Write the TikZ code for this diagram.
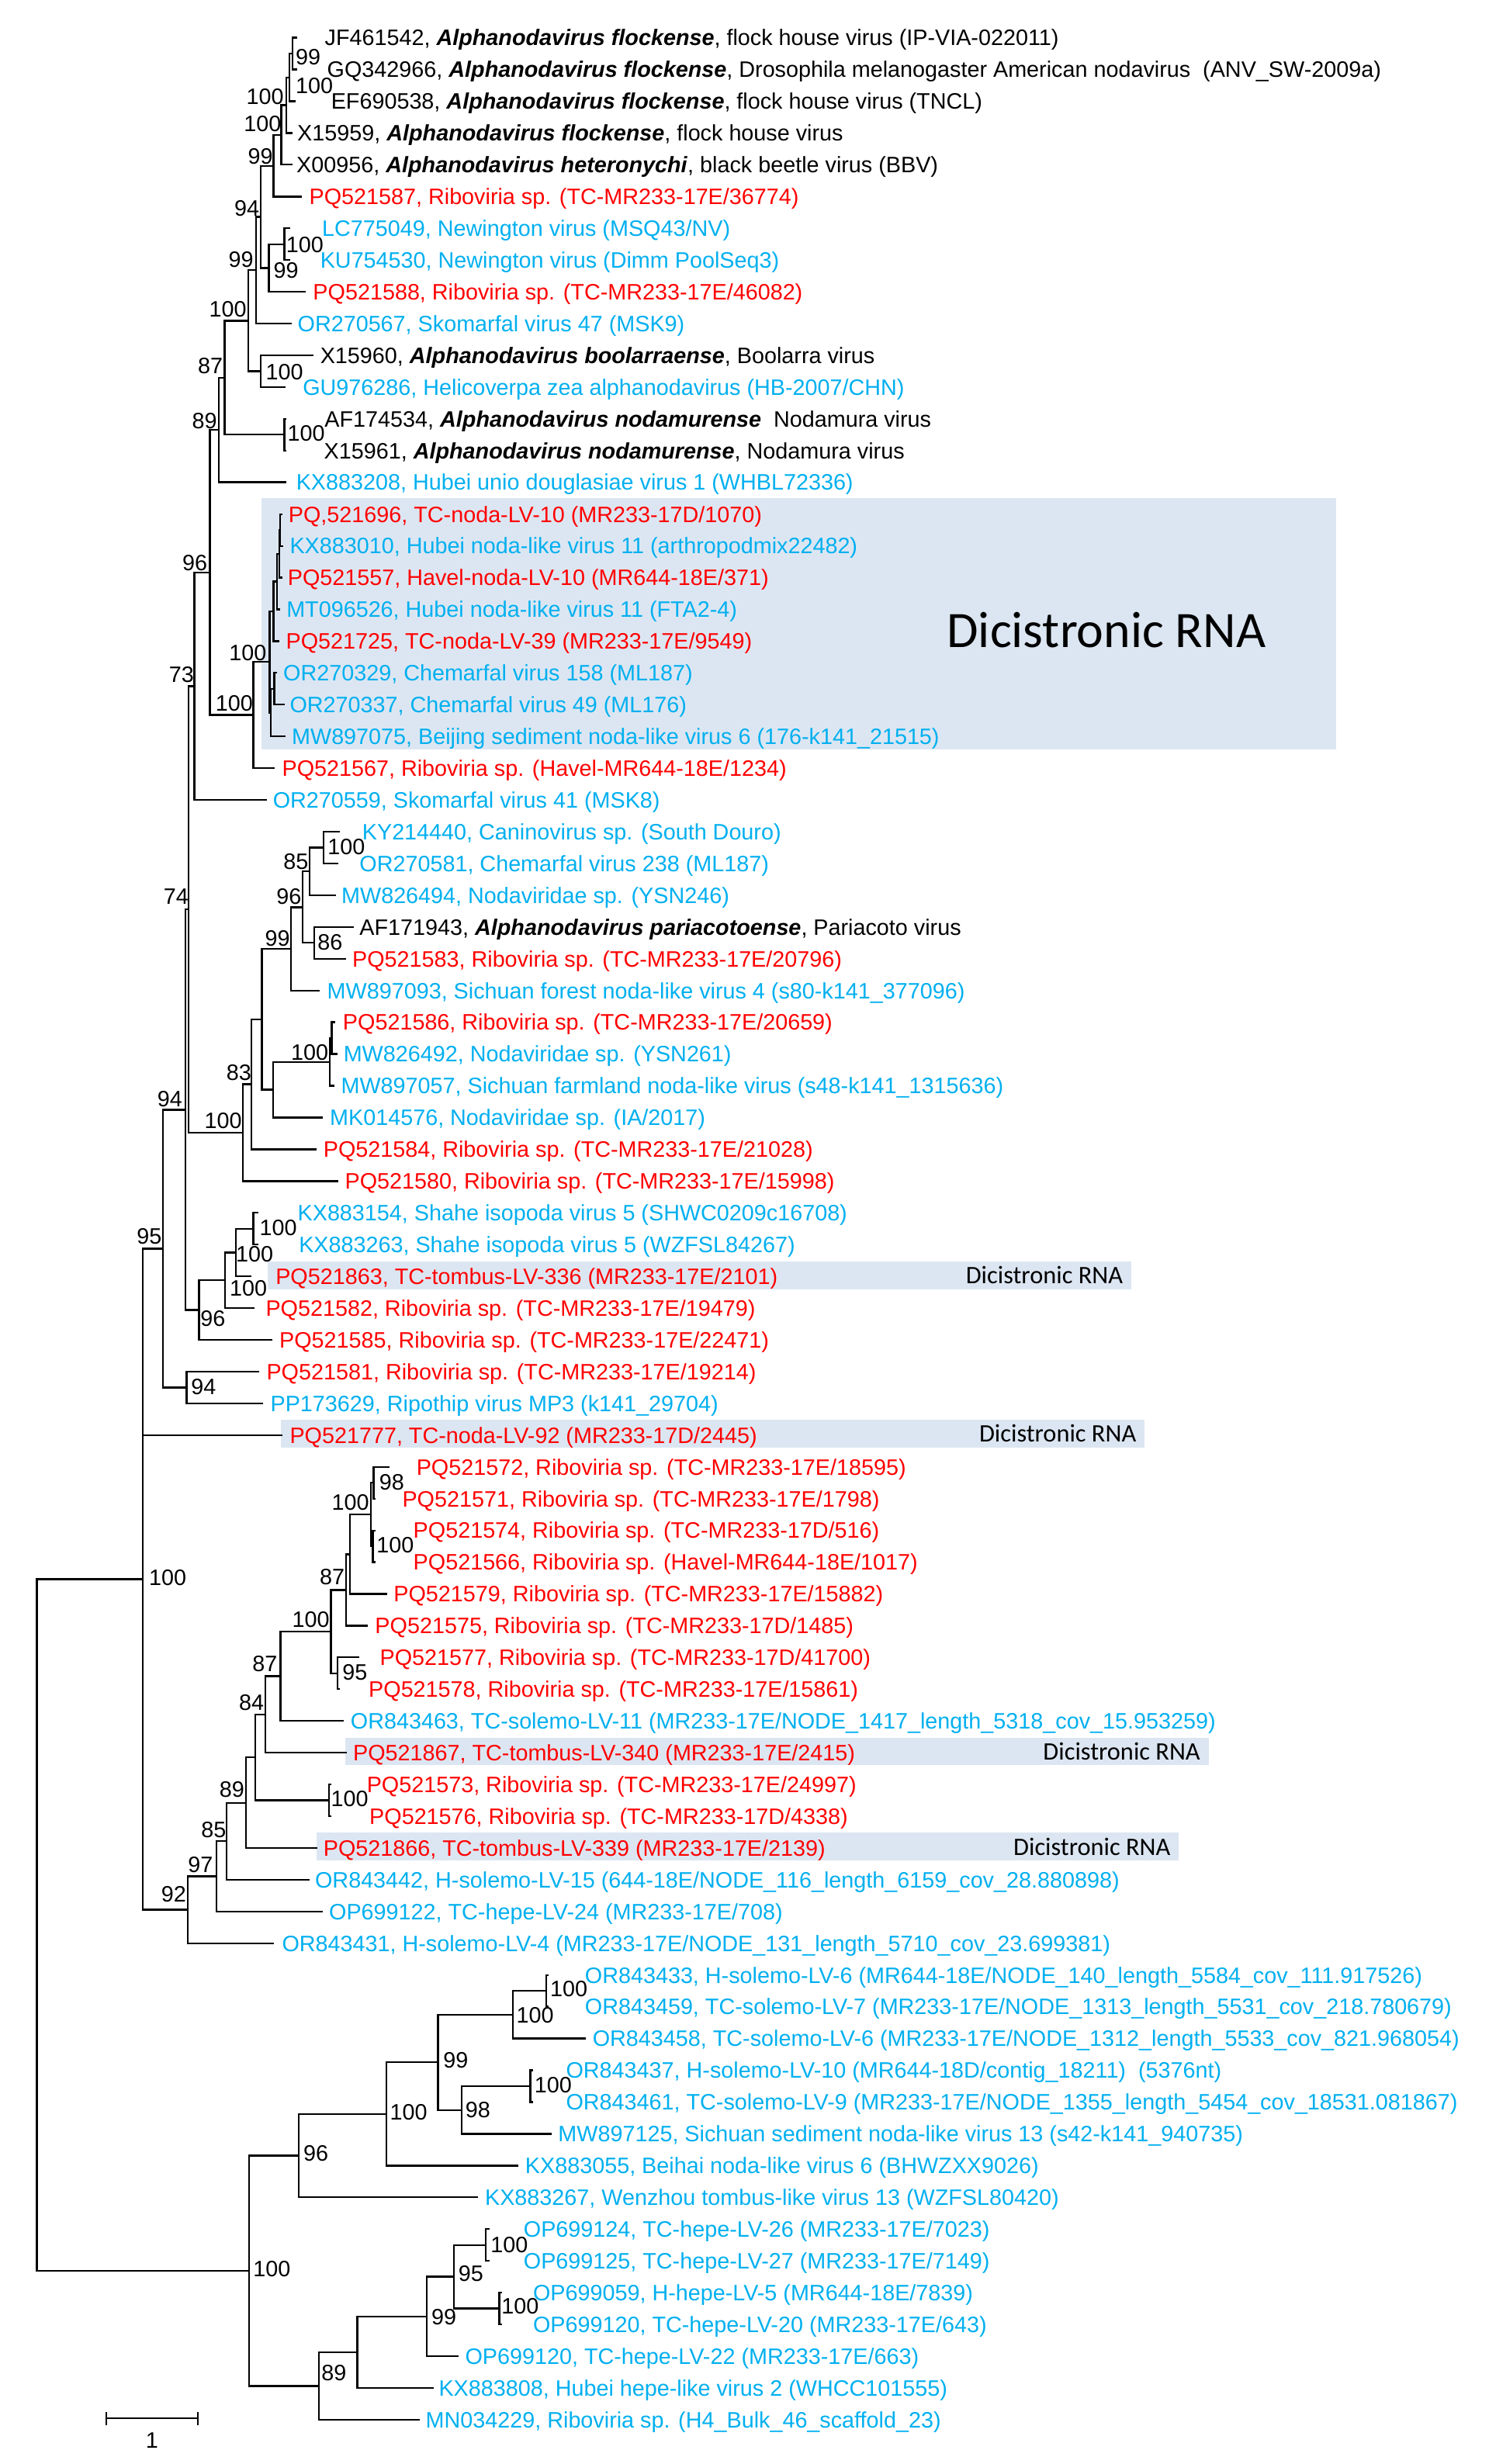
\documentclass[tikz,border=0pt]{standalone}
\usepackage{fontspec}
\setmainfont{Liberation Sans}
\newfontfamily\calfont{Carlito}
\definecolor{tred}{HTML}{FF0000}
\definecolor{tblue}{HTML}{00B0F0}
\definecolor{hlbg}{HTML}{DCE6F2}
\newcommand\spc[1]{\textbf{\textit{#1}}}
\newcommand\lfs{\fontsize{14.2}{16}\selectfont}
\tikzset{
  br/.style={line width=1.15pt, line cap=rect},
  lab/.style={anchor=west, inner sep=0pt, font=\lfs, text height=10.2pt, text depth=0pt},
  bsv/.style={inner sep=0pt, font=\lfs},
  hlbox/.style={fill=hlbg, draw=none},
  dicsmall/.style={inner sep=0pt, font=\calfont\fontsize{16}{18}\selectfont},
  dicbig/.style={inner sep=0pt, font=\calfont\fontsize{32.5}{36}\selectfont},
}
\newcommand\clade[3]{\draw[br] (#2) -| (#1) |- (#3);}
\newcommand\leaf[6]{\coordinate (t#1) at (#2,#4); \node[lab,text=#5] (L#1) at (#3,#4) {#6};}
\newcommand\bsl[4]{\node[bsv] (bs#1) at (#2,#3) {#4};}
\begin{document}
\begin{tikzpicture}[x=1pt,y=-1pt]
\fill[white] (0,0) rectangle (947,1568);
\useasboundingbox (0,0) rectangle (947,1568);
% highlight boxes
\fill[hlbox] (166.5,317) rectangle (850,477);
\fill[hlbox] (170.5,802.7) rectangle (719.7,820.5);
\fill[hlbox] (178.7,903.5) rectangle (728.2,921.1);
\fill[hlbox] (219.6,1105.9) rectangle (769,1123.4);
\fill[hlbox] (201.5,1166.2) rectangle (750,1184);
\node[dicbig] (dicA) at (704,401) {Dicistronic RNA};
\node[dicsmall] (dicB) at (664.5,811.6) {Dicistronic RNA};
\node[dicsmall] (dicC) at (673,912.3) {Dicistronic RNA};
\node[dicsmall] (dicD) at (713.7,1114.6) {Dicistronic RNA};
\node[dicsmall] (dicE) at (694.8,1175.1) {Dicistronic RNA};
% leaves
\leaf{1}{188.5}{206.5}{24.0}{black}{JF461542, \spc{Alphanodavirus flockense}, flock house virus (IP-VIA-022011)}
\leaf{2}{188.5}{208}{44.2}{black}{GQ342966, \spc{Alphanodavirus flockense}, Drosophila melanogaster American nodavirus~ (ANV\_SW-2009a)}
\leaf{3}{187.5}{210.5}{64.4}{black}{EF690538, \spc{Alphanodavirus flockense}, flock house virus (TNCL)}
\leaf{4}{185.5}{189}{84.6}{black}{X15959, \spc{Alphanodavirus flockense}, flock house virus}
\leaf{5}{185.5}{188.5}{104.8}{black}{X00956, \spc{Alphanodavirus heteronychi}, black beetle virus (BBV)}
\leaf{6}{191.6}{196.6}{125.1}{tred}{PQ521587, Riboviria sp. (TC-MR233-17E/36774)}
\leaf{7}{184}{204.8}{145.3}{tblue}{LC775049, Newington virus (MSQ43/NV)}
\leaf{8}{184}{203.6}{165.5}{tblue}{KU754530, Newington virus (Dimm PoolSeq3)}
\leaf{9}{194}{199}{185.7}{tred}{PQ521588, Riboviria sp. (TC-MR233-17E/46082)}
\leaf{10}{185}{189.2}{205.9}{tblue}{OR270567, Skomarfal virus 47 (MSK9)}
\leaf{11}{199}{203.6}{226.1}{black}{X15960, \spc{Alphanodavirus boolarraense}, Boolarra virus}
\leaf{12}{181}{192.5}{246.3}{tblue}{GU976286, Helicoverpa zea alphanodavirus (HB-2007/CHN)}
\leaf{13}{181.5}{206.4}{266.5}{black}{AF174534, \spc{Alphanodavirus nodamurense}~ Nodamura virus}
\leaf{14}{181.5}{206}{286.7}{black}{X15961, \spc{Alphanodavirus nodamurense}, Nodamura virus}
\leaf{15}{181.6}{188.3}{306.9}{tblue}{KX883208, Hubei unio douglasiae virus 1 (WHBL72336)}
\leaf{16}{179}{183.4}{327.2}{tred}{PQ,521696, TC-noda-LV-10 (MR233-17D/1070)}
\leaf{17}{179.5}{184.2}{347.4}{tblue}{KX883010, Hubei noda-like virus 11 (arthropodmix22482)}
\leaf{18}{179}{182.9}{367.6}{tred}{PQ521557, Havel-noda-LV-10 (MR644-18E/371)}
\leaf{19}{177.5}{182.1}{387.8}{tblue}{MT096526, Hubei noda-like virus 11 (FTA2-4)}
\leaf{20}{177}{181.8}{408.0}{tred}{PQ521725, TC-noda-LV-39 (MR233-17E/9549)}
\leaf{21}{175.5}{180.1}{428.2}{tblue}{OR270329, Chemarfal virus 158 (ML187)}
\leaf{22}{180.4}{184.2}{448.4}{tblue}{OR270337, Chemarfal virus 49 (ML176)}
\leaf{23}{181}{185.5}{468.6}{tblue}{MW897075, Beijing sediment noda-like virus 6 (176-k141\_21515)}
\leaf{24}{174.4}{179.3}{488.8}{tred}{PQ521567, Riboviria sp. (Havel-MR644-18E/1234)}
\leaf{25}{169.3}{173.5}{509.0}{tblue}{OR270559, Skomarfal virus 41 (MSK8)}
\leaf{26}{215.5}{230.3}{529.3}{tblue}{KY214440, Caninovirus sp. (South Douro)}
\leaf{27}{214.7}{228.6}{549.5}{tblue}{OR270581, Chemarfal virus 238 (ML187)}
\leaf{28}{213}{217.1}{569.7}{tblue}{MW826494, Nodaviridae sp. (YSN246)}
\leaf{29}{224.5}{228.6}{589.9}{black}{AF171943, \spc{Alphanodavirus pariacotoense}, Pariacoto virus}
\leaf{30}{219.6}{224}{610.1}{tred}{PQ521583, Riboviria sp. (TC-MR233-17E/20796)}
\leaf{31}{203}{208}{630.3}{tblue}{MW897093, Sichuan forest noda-like virus 4 (s80-k141\_377096)}
\leaf{32}{212.7}{218}{650.5}{tred}{PQ521586, Riboviria sp. (TC-MR233-17E/20659)}
\leaf{33}{214}{218.4}{670.7}{tblue}{MW826492, Nodaviridae sp. (YSN261)}
\leaf{34}{212}{216.8}{690.9}{tblue}{MW897057, Sichuan farmland noda-like virus (s48-k141\_1315636)}
\leaf{35}{204.8}{209.7}{711.1}{tblue}{MK014576, Nodaviridae sp. (IA/2017)}
\leaf{36}{200.7}{205.6}{731.4}{tred}{PQ521584, Riboviria sp. (TC-MR233-17E/21028)}
\leaf{37}{214.7}{219.3}{751.6}{tred}{PQ521580, Riboviria sp. (TC-MR233-17E/15998)}
\leaf{38}{163.8}{189.2}{771.8}{tblue}{KX883154, Shahe isopoda virus 5 (SHWC0209c16708)}
\leaf{39}{163.8}{190}{792.0}{tblue}{KX883263, Shahe isopoda virus 5 (WZFSL84267)}
\leaf{40}{159.5}{175.2}{812.2}{tred}{PQ521863, TC-tombus-LV-336 (MR233-17E/2101)}
\leaf{41}{161.2}{168.9}{832.4}{tred}{PQ521582, Riboviria sp. (TC-MR233-17E/19479)}
\leaf{42}{172.7}{177.6}{852.6}{tred}{PQ521585, Riboviria sp. (TC-MR233-17E/22471)}
\leaf{43}{164.5}{169.4}{872.8}{tred}{PQ521581, Riboviria sp. (TC-MR233-17E/19214)}
\leaf{44}{167}{171.9}{893.0}{tblue}{PP173629, Ripothip virus MP3 (k141\_29704)}
\leaf{45}{179.3}{184.2}{913.2}{tred}{PQ521777, TC-noda-LV-92 (MR233-17D/2445)}
\leaf{46}{247.5}{264.8}{933.5}{tred}{PQ521572, Riboviria sp. (TC-MR233-17E/18595)}
\leaf{47}{238.5}{255.8}{953.7}{tred}{PQ521571, Riboviria sp. (TC-MR233-17E/1798)}
\leaf{48}{238.2}{262.8}{973.9}{tred}{PQ521574, Riboviria sp. (TC-MR233-17D/516)}
\leaf{49}{238.2}{262.8}{994.1}{tred}{PQ521566, Riboviria sp. (Havel-MR644-18E/1017)}
\leaf{50}{245.9}{250.3}{1014.3}{tred}{PQ521579, Riboviria sp. (TC-MR233-17E/15882)}
\leaf{51}{233.6}{238.5}{1034.5}{tred}{PQ521575, Riboviria sp. (TC-MR233-17D/1485)}
\leaf{52}{227.8}{241.5}{1054.7}{tred}{PQ521577, Riboviria sp. (TC-MR233-17D/41700)}
\leaf{53}{215.5}{234.4}{1074.9}{tred}{PQ521578, Riboviria sp. (TC-MR233-17E/15861)}
\leaf{54}{218}{222.9}{1095.1}{tblue}{OR843463, TC-solemo-LV-11 (MR233-17E/NODE\_1417\_length\_5318\_cov\_15.953259)}
\leaf{55}{219.9}{224.5}{1115.3}{tred}{PQ521867, TC-tombus-LV-340 (MR233-17E/2415)}
\leaf{56}{210}{233.2}{1135.6}{tred}{PQ521573, Riboviria sp. (TC-MR233-17E/24997)}
\leaf{57}{210}{234.9}{1155.8}{tred}{PQ521576, Riboviria sp. (TC-MR233-17D/4338)}
\leaf{58}{201.5}{205.6}{1176.0}{tred}{PQ521866, TC-tombus-LV-339 (MR233-17E/2139)}
\leaf{59}{196.2}{200.3}{1196.2}{tblue}{OR843442, H-solemo-LV-15 (644-18E/NODE\_116\_length\_6159\_cov\_28.880898)}
\leaf{60}{204.8}{209.2}{1216.4}{tblue}{OP699122, TC-hepe-LV-24 (MR233-17E/708)}
\leaf{61}{173.7}{179.3}{1236.6}{tblue}{OR843431, H-solemo-LV-4 (MR233-17E/NODE\_131\_length\_5710\_cov\_23.699381)}
\leaf{62}{348.5}{372}{1256.8}{tblue}{OR843433, H-solemo-LV-6 (MR644-18E/NODE\_140\_length\_5584\_cov\_111.917526)}
\leaf{63}{348.5}{372}{1277.0}{tblue}{OR843459, TC-solemo-LV-7 (MR233-17E/NODE\_1313\_length\_5531\_cov\_218.780679)}
\leaf{64}{372}{376.9}{1297.2}{tblue}{OR843458, TC-solemo-LV-6 (MR233-17E/NODE\_1312\_length\_5533\_cov\_821.968054)}
\leaf{65}{338.5}{360}{1317.4}{tblue}{OR843437, H-solemo-LV-10 (MR644-18D/contig\_18211)~ (5376nt)}
\leaf{66}{338.5}{360}{1337.7}{tblue}{OR843461, TC-solemo-LV-9 (MR233-17E/NODE\_1355\_length\_5454\_cov\_18531.081867)}
\leaf{67}{350.5}{355}{1357.9}{tblue}{MW897125, Sichuan sediment noda-like virus 13 (s42-k141\_940735)}
\leaf{68}{329.3}{334}{1378.1}{tblue}{KX883055, Beihai noda-like virus 6 (BHWZXX9026)}
\leaf{69}{303.4}{308.4}{1398.3}{tblue}{KX883267, Wenzhou tombus-like virus 13 (WZFSL80420)}
\leaf{70}{311}{333}{1418.5}{tblue}{OP699124, TC-hepe-LV-26 (MR233-17E/7023)}
\leaf{71}{311}{333}{1438.7}{tblue}{OP699125, TC-hepe-LV-27 (MR233-17E/7149)}
\leaf{72}{319}{339}{1458.9}{tblue}{OP699059, H-hepe-LV-5 (MR644-18E/7839)}
\leaf{73}{319}{339}{1479.1}{tblue}{OP699120, TC-hepe-LV-20 (MR233-17E/643)}
\leaf{74}{291.3}{295.8}{1499.3}{tblue}{OP699120, TC-hepe-LV-22 (MR233-17E/663)}
\leaf{75}{275.2}{279}{1519.5}{tblue}{KX883808, Hubei hepe-like virus 2 (WHCC101555)}
\leaf{76}{266.4}{270.7}{1539.8}{tblue}{MN034229, Riboviria sp. (H4\_Bulk\_46\_scaffold\_23)}
% internal nodes
\coordinate (A) at (186,34.1);
\coordinate (B) at (184.3,49.25);
\coordinate (C) at (182.3,66.9);
\coordinate (D) at (179,85.85);
\coordinate (E) at (174,105.5);
\coordinate (F) at (181,155.4);
\coordinate (G) at (171,170.55);
\coordinate (H) at (166,138.0);
\coordinate (I) at (162.8,171.95);
\coordinate (J) at (166,236.2);
\coordinate (K) at (158,204.1);
\coordinate (L) at (181,276.6);
\coordinate (M) at (143,240.35);
\coordinate (N) at (139.3,273.6);
\coordinate (d1) at (178.3,337.3);
\coordinate (d2) at (177.8,352.45);
\coordinate (d3) at (176.2,370.1);
\coordinate (d4) at (174.1,389.05);
\coordinate (d5) at (174.5,438.3);
\coordinate (d6) at (172.2,453.45);
\coordinate (R) at (171.6,421.25);
\coordinate (P) at (161.2,455.0);
\coordinate (O) at (133.6,364.3);
\coordinate (Q) at (123.7,436.65);
\coordinate (m1) at (206,539.4);
\coordinate (m2) at (197,554.55);
\coordinate (m3) at (199.9,600.0);
\coordinate (m4) at (192.5,577.3);
\coordinate (m5) at (185,603.8);
\coordinate (m6) at (211,660.6);
\coordinate (m7) at (209.7,675.75);
\coordinate (m8) at (173.9,693.4);
\coordinate (m9) at (166.6,648.6);
\coordinate (m10) at (160,690.0);
\coordinate (m11) at (154.6,720.8);
\coordinate (n73) at (120.1,578.7);
\coordinate (l1) at (161.2,781.9);
\coordinate (l2) at (150,797.05);
\coordinate (l3) at (143.1,814.7);
\coordinate (l4) at (126.7,833.65);
\coordinate (n74) at (118.1,706.2);
\coordinate (l5) at (118.8,882.9);
\coordinate (n94) at (103.6,794.55);
\coordinate (s1) at (237.7,943.6);
\coordinate (s2) at (237.2,984.0);
\coordinate (s3) at (236,963.8);
\coordinate (s4) at (222.6,989.05);
\coordinate (s5) at (220.1,1011.8);
\coordinate (s6) at (214.7,1064.8);
\coordinate (s7) at (210.5,1038.3);
\coordinate (s8) at (178.5,1066.7);
\coordinate (s9) at (168.9,1091.0);
\coordinate (s10) at (209.2,1145.7);
\coordinate (s11) at (162.3,1118.35);
\coordinate (s12) at (156.6,1147.2);
\coordinate (s13) at (144.1,1171.7);
\coordinate (s14) at (137.8,1194.05);
\coordinate (s15) at (119.6,1215.3);
\coordinate (n95) at (91,1004.9);
\coordinate (b1) at (347.4,1266.9);
\coordinate (b2) at (326.3,1282.05);
\coordinate (b3) at (337.4,1327.55);
\coordinate (b4) at (293.8,1342.7);
\coordinate (b5) at (278.7,1312.4);
\coordinate (b6) at (246,1345.25);
\coordinate (b7) at (190.1,1371.8);
\coordinate (b8) at (309.2,1428.6);
\coordinate (b9) at (317.7,1469.0);
\coordinate (b10) at (288.8,1448.8);
\coordinate (b11) at (271.4,1474.05);
\coordinate (b12) at (227.3,1496.8);
\coordinate (b13) at (202.9,1518.3);
\coordinate (b14) at (158.6,1445.05);
\coordinate (rt) at (23.5,1225.0);
% branches
\clade{A}{t1}{t2}
\clade{B}{A}{t3}
\clade{C}{B}{t4}
\clade{D}{C}{t5}
\clade{E}{D}{t6}
\clade{F}{t7}{t8}
\clade{G}{F}{t9}
\clade{H}{E}{G}
\clade{I}{H}{t10}
\clade{J}{t11}{t12}
\clade{K}{I}{J}
\clade{L}{t13}{t14}
\clade{M}{K}{L}
\clade{N}{M}{t15}
\clade{d1}{t16}{t17}
\clade{d2}{d1}{t18}
\clade{d3}{d2}{t19}
\clade{d4}{d3}{t20}
\clade{d5}{t21}{t22}
\clade{d6}{d5}{t23}
\clade{R}{d4}{d6}
\clade{P}{R}{t24}
\clade{O}{N}{P}
\clade{Q}{O}{t25}
\clade{m1}{t26}{t27}
\clade{m2}{m1}{t28}
\clade{m3}{t29}{t30}
\clade{m4}{m2}{m3}
\clade{m5}{m4}{t31}
\clade{m6}{t32}{t33}
\clade{m7}{m6}{t34}
\clade{m8}{m7}{t35}
\clade{m9}{m5}{m8}
\clade{m10}{m9}{t36}
\clade{m11}{m10}{t37}
\clade{n73}{Q}{m11}
\clade{l1}{t38}{t39}
\clade{l2}{l1}{t40}
\clade{l3}{l2}{t41}
\clade{l4}{l3}{t42}
\clade{n74}{n73}{l4}
\clade{l5}{t43}{t44}
\clade{n94}{n74}{l5}
\clade{n95}{n94}{s15}
\draw[br] (n95 |- t45) -- (t45);
\clade{s1}{t46}{t47}
\clade{s2}{t48}{t49}
\clade{s3}{s1}{s2}
\clade{s4}{s3}{t50}
\clade{s5}{s4}{t51}
\clade{s6}{t52}{t53}
\clade{s7}{s5}{s6}
\clade{s8}{s7}{t54}
\clade{s9}{s8}{t55}
\clade{s10}{t56}{t57}
\clade{s11}{s9}{s10}
\clade{s12}{s11}{t58}
\clade{s13}{s12}{t59}
\clade{s14}{s13}{t60}
\clade{s15}{s14}{t61}
\clade{b1}{t62}{t63}
\clade{b2}{b1}{t64}
\clade{b3}{t65}{t66}
\clade{b4}{b3}{t67}
\clade{b5}{b2}{b4}
\clade{b6}{b5}{t68}
\clade{b7}{b6}{t69}
\clade{b8}{t70}{t71}
\clade{b9}{t72}{t73}
\clade{b10}{b8}{b9}
\clade{b11}{b10}{t74}
\clade{b12}{b11}{t75}
\clade{b13}{b12}{t76}
\clade{b14}{b7}{b13}
\clade{rt}{n95}{b14}
% bootstrap values
\bsl{A}{196}{36.4}{99}
\bsl{B}{200}{54.4}{100}
\bsl{C}{168.7}{61.3}{100}
\bsl{D}{167}{79}{100}
\bsl{E}{165.7}{99.7}{99}
\bsl{H}{157}{132.5}{94}
\bsl{F}{194}{155.8}{100}
\bsl{G}{182}{172}{99}
\bsl{I}{153.3}{165}{99}
\bsl{K}{145}{197}{100}
\bsl{J}{181}{236.8}{100}
\bsl{M}{133.8}{232.6}{87}
\bsl{N}{130.2}{268}{89}
\bsl{L}{194.8}{276}{100}
\bsl{O}{124}{358}{96}
\bsl{R}{157.7}{415.3}{100}
\bsl{P}{149}{447.7}{100}
\bsl{Q}{115.5}{429.3}{73}
\bsl{n73}{112}{570.4}{74}
\bsl{m2}{188.3}{548.4}{85}
\bsl{m1}{220.4}{539}{100}
\bsl{m4}{183.8}{570.4}{96}
\bsl{m5}{176.5}{597}{99}
\bsl{m3}{210}{599.8}{86}
\bsl{m7}{197}{669.6}{100}
\bsl{m10}{152}{682.8}{83}
\bsl{m11}{142}{713}{100}
\bsl{n74}{108}{699.2}{94}
\bsl{n94}{95}{787}{95}
\bsl{l1}{177}{781.3}{100}
\bsl{l2}{162}{798}{100}
\bsl{l3}{158}{820}{100}
\bsl{l4}{135.5}{839}{96}
\bsl{l5}{129.5}{882.3}{94}
\bsl{n95}{106.7}{1004}{100}
\bsl{s1}{249.2}{943.4}{98}
\bsl{s3}{223}{956}{100}
\bsl{s2}{251.5}{983.4}{100}
\bsl{s5}{211.4}{1003.3}{87}
\bsl{s7}{197.8}{1030.6}{100}
\bsl{s6}{225.8}{1064}{95}
\bsl{s8}{168.5}{1058.8}{87}
\bsl{s9}{160}{1083.5}{84}
\bsl{s10}{222.5}{1144.8}{100}
\bsl{s12}{147.6}{1139}{89}
\bsl{s13}{136}{1164.6}{85}
\bsl{s14}{127.5}{1186.8}{97}
\bsl{s15}{110.5}{1205.6}{92}
\bsl{b1}{362}{1265.5}{100}
\bsl{b2}{340.5}{1282.5}{100}
\bsl{b5}{290}{1311}{99}
\bsl{b3}{352}{1327}{100}
\bsl{b4}{304}{1342.6}{98}
\bsl{b6}{260}{1344}{100}
\bsl{b7}{201}{1370.5}{96}
\bsl{b14}{173}{1444}{100}
\bsl{b8}{324}{1428.7}{100}
\bsl{b10}{299.6}{1447}{95}
\bsl{b9}{331}{1467.6}{100}
\bsl{b11}{282.5}{1474.7}{99}
\bsl{b13}{212.5}{1510}{89}
% scale bar
\coordinate (sb1) at (67.5,1539);
\coordinate (sb2) at (125.9,1539);
\draw[br] (sb1) -- (sb2);
\draw[br] ([yshift=3.5pt]sb1) -- ([yshift=-3.5pt]sb1);
\draw[br] ([yshift=3.5pt]sb2) -- ([yshift=-3.5pt]sb2);
\node[bsv] (sblab) at (96.7,1553) {1};
\end{tikzpicture}
\end{document}
